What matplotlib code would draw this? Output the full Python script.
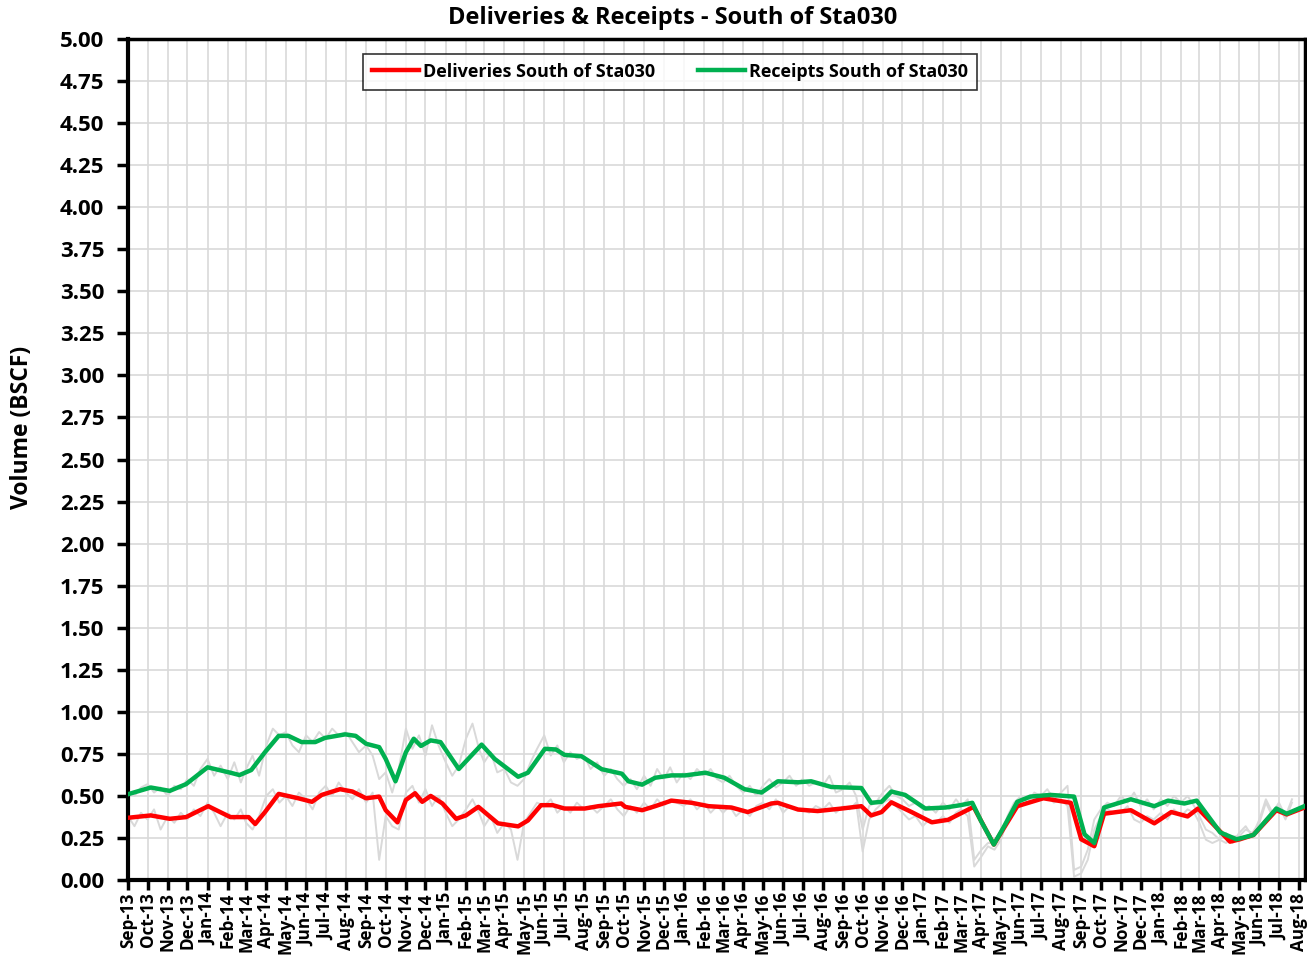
import numpy as np
import pandas as pd
import matplotlib
matplotlib.use("Agg")
import matplotlib.pyplot as plt
import matplotlib.dates as mdates

plt.rcParams['font.family'] = ['Open Sans', 'DejaVu Sans']
plt.rcParams['font.weight'] = 'bold'

# 30-day average, deliveries south of Sta030 (BSCF)
del_dates = ['2013-09-01', '2013-10-06', '2013-11-04', '2013-11-29', '2014-01-02', '2014-02-05',
             '2014-03-05', '2014-03-15', '2014-03-30', '2014-04-20', '2014-05-20', '2014-06-10',
             '2014-06-25', '2014-07-23', '2014-08-11', '2014-09-01', '2014-09-21', '2014-10-01',
             '2014-10-19', '2014-11-01', '2014-11-15', '2014-11-26', '2014-12-09', '2014-12-27',
             '2015-01-17', '2015-02-01', '2015-02-20', '2015-03-22', '2015-04-22', '2015-05-07',
             '2015-05-27', '2015-06-14', '2015-07-02', '2015-08-02', '2015-08-23', '2015-09-27',
             '2015-10-03', '2015-10-29', '2015-11-18', '2015-12-13', '2016-01-13', '2016-02-08',
             '2016-03-14', '2016-04-08', '2016-05-14', '2016-05-24', '2016-06-24', '2016-07-24',
             '2016-08-30', '2016-09-29', '2016-10-14', '2016-10-30', '2016-11-14', '2016-12-15',
             '2017-01-15', '2017-02-09', '2017-03-15', '2017-03-20', '2017-04-20', '2017-05-26',
             '2017-07-05', '2017-08-16', '2017-09-01', '2017-09-21', '2017-10-06', '2017-11-16',
             '2017-12-22', '2018-01-17', '2018-02-11', '2018-02-27', '2018-04-17', '2018-05-02',
             '2018-05-23', '2018-06-27', '2018-07-13', '2018-08-09']
del_avg = [0.37, 0.384, 0.364, 0.374, 0.439, 0.374,
           0.374, 0.333, 0.404, 0.512, 0.486, 0.465,
           0.506, 0.54, 0.526, 0.486, 0.496, 0.415,
           0.343, 0.476, 0.516, 0.465, 0.50, 0.455,
           0.364, 0.384, 0.435, 0.337, 0.319, 0.354,
           0.445, 0.445, 0.425, 0.425, 0.439, 0.455,
           0.435, 0.415, 0.439, 0.472, 0.459, 0.439,
           0.431, 0.404, 0.455, 0.459, 0.419, 0.41,
           0.425, 0.439, 0.384, 0.404, 0.462, 0.404,
           0.343, 0.358, 0.425, 0.435, 0.211, 0.439,
           0.486, 0.459, 0.242, 0.201, 0.394, 0.415,
           0.337, 0.404, 0.378, 0.425, 0.228, 0.242,
           0.268, 0.415, 0.39, 0.431]

# 30-day average, receipts south of Sta030 (BSCF)
rec_dates = ['2013-09-01', '2013-10-06', '2013-11-04', '2013-11-29', '2014-01-01', '2014-02-05',
             '2014-02-19', '2014-03-09', '2014-03-30', '2014-04-20', '2014-05-05', '2014-05-25',
             '2014-06-15', '2014-06-30', '2014-07-31', '2014-08-16', '2014-09-01', '2014-09-21',
             '2014-10-01', '2014-10-16', '2014-11-01', '2014-11-13', '2014-11-24', '2014-12-09',
             '2014-12-24', '2015-01-21', '2015-02-25', '2015-03-17', '2015-04-22', '2015-05-07',
             '2015-06-02', '2015-06-19', '2015-07-02', '2015-07-28', '2015-08-28', '2015-09-28',
             '2015-10-08', '2015-10-29', '2015-11-18', '2015-12-13', '2016-01-03', '2016-02-03',
             '2016-03-03', '2016-04-03', '2016-04-29', '2016-05-24', '2016-06-24', '2016-07-14',
             '2016-08-14', '2016-09-29', '2016-10-14', '2016-10-30', '2016-11-14', '2016-12-05',
             '2017-01-05', '2017-02-05', '2017-02-28', '2017-03-18', '2017-03-31', '2017-04-20',
             '2017-05-05', '2017-05-26', '2017-06-15', '2017-07-16', '2017-08-21', '2017-09-06',
             '2017-09-21', '2017-10-06', '2017-11-16', '2017-12-22', '2018-01-12', '2018-02-06',
             '2018-02-25', '2018-04-02', '2018-04-27', '2018-05-23', '2018-06-27', '2018-07-13',
             '2018-08-09']
rec_avg = [0.51, 0.55, 0.53, 0.57, 0.67, 0.638,
           0.624, 0.654, 0.76, 0.857, 0.857, 0.82,
           0.82, 0.845, 0.866, 0.857, 0.81, 0.79,
           0.72, 0.587, 0.76, 0.84, 0.797, 0.83,
           0.82, 0.66, 0.805, 0.72, 0.614, 0.638,
           0.78, 0.776, 0.744, 0.736, 0.659, 0.632,
           0.587, 0.567, 0.608, 0.622, 0.622, 0.638,
           0.608, 0.54, 0.52, 0.587, 0.581, 0.587,
           0.553, 0.547, 0.459, 0.465, 0.526, 0.506,
           0.425, 0.431, 0.445, 0.459, 0.354, 0.211,
           0.313, 0.465, 0.496, 0.506, 0.496, 0.272,
           0.22, 0.431, 0.48, 0.439, 0.472, 0.455,
           0.472, 0.283, 0.242, 0.268, 0.425, 0.394,
           0.439]

# daily values sampled on the 1st, 11th and 21st of each month
raw_months = pd.date_range('2013-09-01', '2018-07-01', freq='MS')
raw_del = [0.38, 0.32, 0.40, 0.36, 0.42, 0.30, 0.38, 0.34, 0.40, 0.36, 0.42, 0.38,
           0.46, 0.40, 0.32, 0.40, 0.36, 0.42, 0.34, 0.30, 0.38, 0.50, 0.54, 0.46,
           0.50, 0.44, 0.52, 0.48, 0.42, 0.52, 0.56, 0.50, 0.58, 0.52, 0.48, 0.54,
           0.46, 0.52, 0.12, 0.38, 0.32, 0.30, 0.52, 0.56, 0.46, 0.54, 0.44, 0.50,
           0.40, 0.32, 0.36, 0.42, 0.48, 0.40, 0.32, 0.38, 0.28, 0.34, 0.30, 0.12,
           0.34, 0.40, 0.46, 0.44, 0.48, 0.40, 0.44, 0.40, 0.46, 0.42, 0.44, 0.40,
           0.44, 0.48, 0.42, 0.38, 0.44, 0.40, 0.46, 0.42, 0.48, 0.44, 0.48, 0.46,
           0.44, 0.48, 0.42, 0.46, 0.40, 0.44, 0.40, 0.44, 0.38, 0.42, 0.38, 0.44,
           0.46, 0.42, 0.48, 0.40, 0.44, 0.42, 0.42, 0.40, 0.44, 0.42, 0.46, 0.40,
           0.44, 0.42, 0.46, 0.17, 0.36, 0.42, 0.46, 0.48, 0.44, 0.40, 0.36, 0.38,
           0.32, 0.36, 0.34, 0.38, 0.34, 0.40, 0.42, 0.38, 0.08, 0.14, 0.20, 0.18,
           0.24, 0.36, 0.42, 0.44, 0.46, 0.48, 0.48, 0.50, 0.46, 0.48, 0.44, 0.02,
           0.04, 0.12, 0.30, 0.38, 0.42, 0.40, 0.40, 0.44, 0.36, 0.34, 0.38, 0.36,
           0.40, 0.36, 0.42, 0.38, 0.42, 0.40, 0.34, 0.24, 0.22, 0.24, 0.22, 0.26,
           0.26, 0.30, 0.28, 0.34, 0.46, 0.38, 0.44, 0.36, 0.46]
raw_rec = [0.53, 0.50, 0.55, 0.57, 0.52, 0.55, 0.50, 0.56, 0.54, 0.60, 0.56, 0.66,
           0.72, 0.62, 0.68, 0.60, 0.70, 0.58, 0.66, 0.74, 0.62, 0.80, 0.90, 0.86,
           0.88, 0.80, 0.76, 0.86, 0.82, 0.88, 0.84, 0.90, 0.86, 0.88, 0.82, 0.76,
           0.80, 0.74, 0.60, 0.64, 0.52, 0.66, 0.90, 0.78, 0.86, 0.74, 0.92, 0.80,
           0.70, 0.62, 0.68, 0.84, 0.93, 0.78, 0.70, 0.76, 0.64, 0.66, 0.58, 0.56,
           0.60, 0.70, 0.78, 0.86, 0.74, 0.80, 0.70, 0.76, 0.72, 0.74, 0.66, 0.70,
           0.62, 0.66, 0.60, 0.56, 0.60, 0.54, 0.62, 0.56, 0.66, 0.60, 0.67, 0.58,
           0.64, 0.60, 0.66, 0.62, 0.66, 0.60, 0.58, 0.62, 0.56, 0.52, 0.56, 0.50,
           0.56, 0.60, 0.55, 0.58, 0.62, 0.56, 0.60, 0.56, 0.58, 0.56, 0.62, 0.52,
           0.54, 0.58, 0.50, 0.30, 0.44, 0.46, 0.52, 0.56, 0.50, 0.48, 0.44, 0.46,
           0.42, 0.44, 0.40, 0.46, 0.42, 0.48, 0.44, 0.48, 0.12, 0.18, 0.22, 0.22,
           0.26, 0.38, 0.46, 0.50, 0.46, 0.52, 0.50, 0.54, 0.48, 0.52, 0.56, 0.06,
           0.08, 0.18, 0.36, 0.42, 0.46, 0.44, 0.50, 0.46, 0.52, 0.44, 0.48, 0.42,
           0.48, 0.44, 0.50, 0.46, 0.50, 0.44, 0.38, 0.30, 0.28, 0.24, 0.28, 0.22,
           0.28, 0.32, 0.26, 0.36, 0.48, 0.40, 0.46, 0.38, 0.48]
raw_dates = [m + pd.Timedelta(days=d) for m in raw_months for d in (0, 10, 20)]

fig = plt.figure(figsize=(13.07, 9.58), dpi=100)
ax = fig.add_axes([0.0979, 0.0814, 0.9006, 0.8779])

ax.plot(raw_dates, raw_rec, color='#d9d9d9', lw=1.4, zorder=2)
ax.plot(raw_dates, raw_del, color='#d9d9d9', lw=1.4, zorder=2)
ax.plot(pd.to_datetime(del_dates), del_avg, color='#ff0000', lw=3.2, zorder=3,
        solid_joinstyle='round', label='Deliveries South of Sta030')
ax.plot(pd.to_datetime(rec_dates), rec_avg, color='#00b050', lw=3.2, zorder=4,
        solid_joinstyle='round', label='Receipts South of Sta030')

ax.set_xlim(pd.Timestamp('2013-09-01'), pd.Timestamp('2018-08-10'))
ax.set_ylim(0, 5)
ax.set_yticks(np.arange(0, 5.01, 0.25))
ax.yaxis.set_major_formatter(matplotlib.ticker.FormatStrFormatter('%.2f'))
ax.xaxis.set_major_locator(mdates.MonthLocator())
ax.xaxis.set_major_formatter(mdates.DateFormatter('%b-%y'))
plt.setp(ax.get_xticklabels(), rotation=90, fontsize=12.3, fontweight='bold')
plt.setp(ax.get_yticklabels(), fontsize=16, fontweight='bold')
ax.tick_params(axis='both', direction='out', width=2.5, length=7, color='black')
ax.tick_params(axis='x', pad=2)
ax.tick_params(axis='y', length=8, pad=9)

ax.grid(True, color='#d9d9d9', lw=1.2, zorder=0)
ax.set_axisbelow(True)
for side in ['left', 'bottom']:
    ax.spines[side].set_linewidth(3)
for side in ['top', 'right']:
    ax.spines[side].set_linewidth(2.5)

fig.text(0.515, 0.981, 'Deliveries & Receipts - South of Sta030', ha='center', va='center',
         fontsize=17, fontweight='bold')
fig.text(0.017, 0.554, 'Volume (BSCF)', rotation=90, ha='center', va='center',
         fontsize=16.5, fontweight='bold')

leg = ax.legend(loc='center', bbox_to_anchor=(0.5127, 0.9253), bbox_transform=fig.transFigure,
                ncol=2, fontsize=13, frameon=True, fancybox=False, edgecolor='black',
                handlelength=2.6, handletextpad=0.2, columnspacing=2.4, borderpad=0.5)
leg.get_frame().set_linewidth(1.2)
for t in leg.get_texts():
    t.set_fontweight('bold')

fig.savefig('out.png', dpi=100)
